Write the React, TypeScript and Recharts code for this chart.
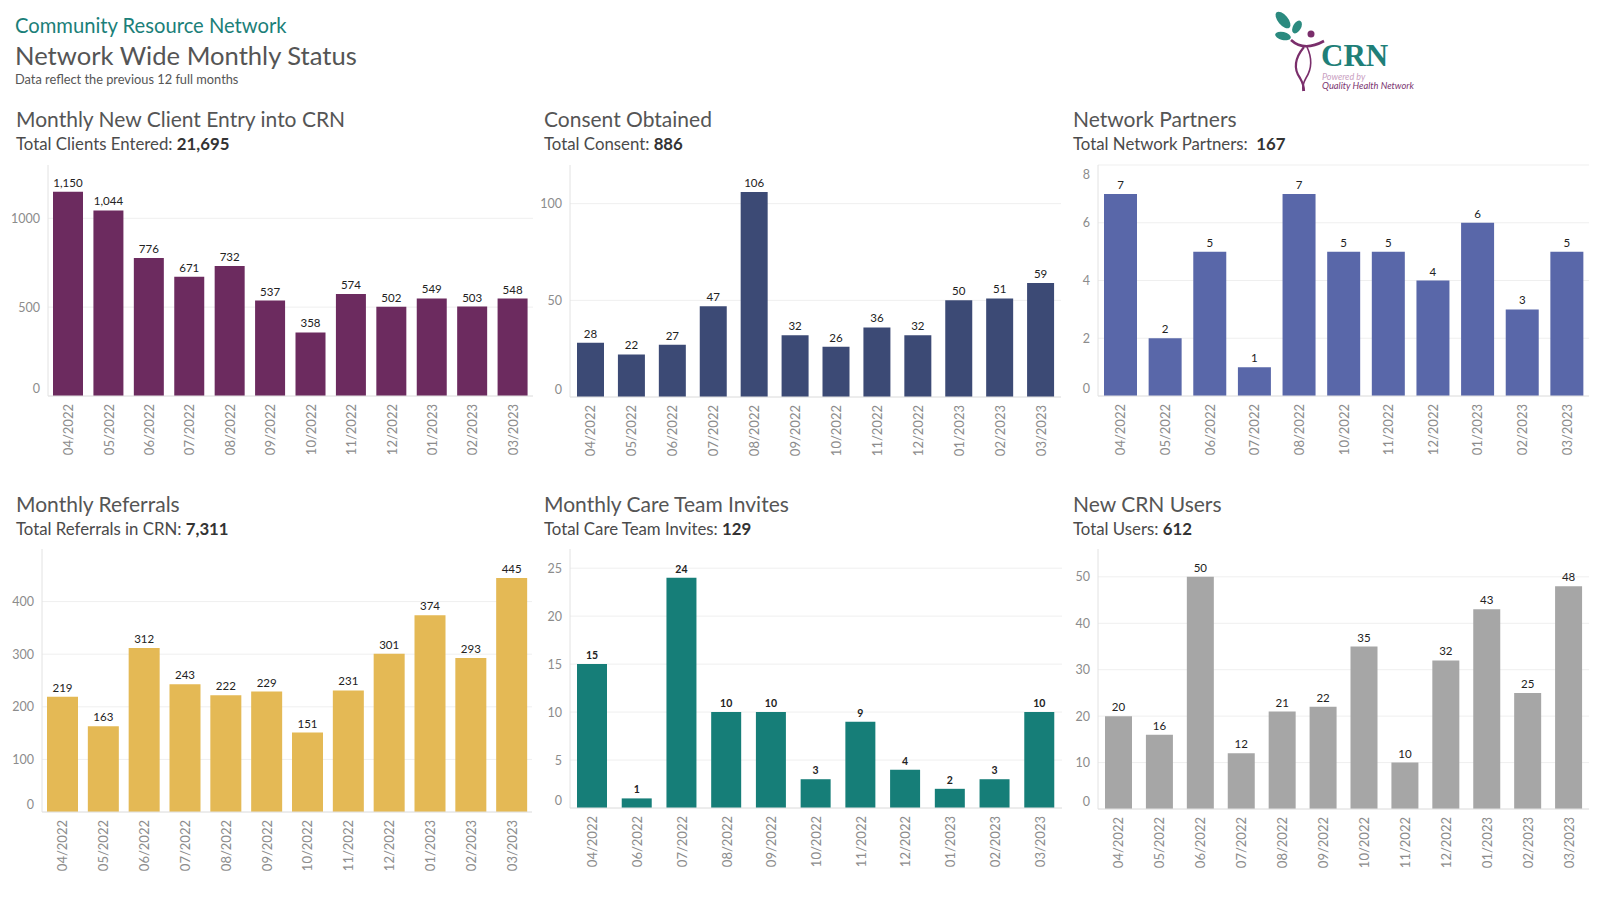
import React from 'react';
import { BarChart, Bar, XAxis, YAxis, LabelList, CartesianGrid } from 'recharts';

const months12 = ['04/2022', '05/2022', '06/2022', '07/2022', '08/2022', '09/2022', '10/2022', '11/2022', '12/2022', '01/2023', '02/2023', '03/2023'];

const clientMonths = months12;
const clientValues = [1150, 1044, 776, 671, 732, 537, 358, 574, 502, 549, 503, 548];
const clientTicks = [0, 500, 1000];

const consentMonths = months12;
const consentValues = [28, 22, 27, 47, 106, 32, 26, 36, 32, 50, 51, 59];
const consentTicks = [0, 50, 100];

const partnerMonths = ['04/2022', '05/2022', '06/2022', '07/2022', '08/2022', '10/2022', '11/2022', '12/2022', '01/2023', '02/2023', '03/2023'];
const partnerValues = [7, 2, 5, 1, 7, 5, 5, 4, 6, 3, 5];
const partnerTicks = [0, 2, 4, 6, 8];

const referralMonths = months12;
const referralValues = [219, 163, 312, 243, 222, 229, 151, 231, 301, 374, 293, 445];
const referralTicks = [0, 100, 200, 300, 400];

const inviteMonths = ['04/2022', '06/2022', '07/2022', '08/2022', '09/2022', '10/2022', '11/2022', '12/2022', '01/2023', '02/2023', '03/2023'];
const inviteValues = [15, 1, 24, 10, 10, 3, 9, 4, 2, 3, 10];
const inviteTicks = [0, 5, 10, 15, 20, 25];

const userMonths = months12;
const userValues = [20, 16, 50, 12, 21, 22, 35, 10, 32, 43, 25, 48];
const userTicks = [0, 10, 20, 30, 40, 50];

const FONT = "Lato, 'Open Sans', sans-serif";

const fmt = (v: any) => Number(v).toLocaleString('en-US');

type PanelProps = {
  months: string[];
  values: number[];
  color: string;
  domain: [number, number];
  ticks: number[];
  plotLeft: number;
  plotRight: number;
  plotTop: number;
  plotBottom: number;
  barSize: number;
  boldLabels?: boolean;
};

function Panel(props: PanelProps) {
  const { months, values, color, domain, ticks, plotLeft, plotRight, plotTop, plotBottom, barSize, boldLabels } = props;
  const yW = 40;
  const mt = 20;
  const mr = 6;
  const xh = 70;
  const left = plotLeft - yW;
  const top = plotTop - mt;
  const width = plotRight - left + mr;
  const height = plotBottom - top + xh;
  const data = months.map((m, i) => ({ month: m, value: values[i] }));

  const yTick = (p: any) => {
    const v = p.payload.value;
    let dy = 0;
    if (v === domain[0]) dy = -8;
    else if (v === domain[1]) dy = 9;
    return (
      <text x={p.x} y={p.y + dy} textAnchor="end" dominantBaseline="central" fill="#8c8c8c" fontSize={12.5} fontFamily={FONT}>
        {v}
      </text>
    );
  };

  const xTick = (p: any) => (
    <text
      transform={`translate(${p.x},${p.y}) rotate(-90)`}
      textAnchor="end"
      dominantBaseline="central"
      fill="#8c8c8c"
      fontSize={13}
      fontFamily={FONT}
    >
      {p.payload.value}
    </text>
  );

  return (
    <div style={{ position: 'absolute', left, top, width, height }}>
      <BarChart width={width} height={height} data={data} margin={{ top: mt, right: mr, bottom: 0, left: 0 }} barCategoryGap={0}>
        <CartesianGrid vertical={false} stroke="#efefef" syncWithTicks />
        <XAxis dataKey="month" height={xh} interval={0} tickLine={false} axisLine={{ stroke: '#e2e2e2' }} tick={xTick} />
        <YAxis
          width={yW}
          type="number"
          domain={domain}
          ticks={ticks}
          allowDataOverflow
          interval={0}
          tickLine={false}
          axisLine={{ stroke: '#e2e2e2' }}
          tick={yTick}
        />
        <Bar dataKey="value" fill={color} barSize={barSize} isAnimationActive={false}>
          <LabelList
            dataKey="value"
            position="top"
            offset={5}
            formatter={fmt}
            fill="#222222"
            fontSize={boldLabels ? 10.5 : 11.5}
            fontWeight={boldLabels ? 700 : 400}
            fontFamily={FONT}
          />
        </Bar>
      </BarChart>
    </div>
  );
}

function Logo() {
  return (
    <g>
      <ellipse cx={1283} cy={20} rx={5} ry={10} fill="#2b8a7f" transform="rotate(-40 1283 20)" />
      <ellipse cx={1297} cy={27} rx={4} ry={7} fill="#2b8a7f" transform="rotate(30 1297 27)" />
      <ellipse cx={1283} cy={36} rx={8} ry={4} fill="#2b8a7f" transform="rotate(12 1283 36)" />
      <circle cx={1311} cy={34} r={3.5} fill="#7a2e6b" />
      <path d="M1291 40 Q1304 52 1324 41" stroke="#7a2e6b" strokeWidth={2.6} fill="none" />
      <path d="M1304 47 Q1290 64 1300 78 Q1304 85 1304 91" stroke="#7a2e6b" strokeWidth={2.2} fill="none" />
      <path d="M1307 47 Q1315 64 1306 78 Q1302 85 1303 91" stroke="#7a2e6b" strokeWidth={1.6} fill="none" />
      <text x={1321} y={66} fontFamily="'Liberation Serif', 'DejaVu Serif', serif" fontWeight={700} fontSize={31} fill="#1f7f78">
        CRN
      </text>
      <text x={1322} y={80} fontFamily={FONT} fontStyle="italic" fontSize={9} fill="#c9a0bf">
        Powered by
      </text>
      <text x={1322} y={89} fontFamily={FONT} fontStyle="italic" fontSize={9.3} fill="#7b3470">
        Quality Health Network
      </text>
    </g>
  );
}

function Texts() {
  const titleStyle = { fontFamily: FONT, fontSize: 21, fill: '#555555' } as any;
  const subStyle = { fontFamily: FONT, fontSize: 16.8, fill: '#4a4a4a', style: { whiteSpace: 'pre' } } as any;
  const bold = { fontWeight: 700, fill: '#333333' } as any;
  return (
    <svg width={1600} height={900} style={{ position: 'absolute', left: 0, top: 0, pointerEvents: 'none' }}>
      <text x={15} y={33} fontFamily={FONT} fontSize={20.2} fill="#1b7f79">Community Resource Network</text>
      <text x={15} y={65} fontFamily={FONT} fontSize={25.6} fill="#555555">Network Wide Monthly Status</text>
      <text x={15} y={84} fontFamily={FONT} fontSize={12.8} fill="#555555">Data reflect the previous 12 full months</text>

      <text x={16} y={127} {...titleStyle}>Monthly New Client Entry into CRN</text>
      <text x={16} y={150} {...subStyle}>Total Clients Entered: <tspan {...bold}>21,695</tspan></text>

      <text x={544} y={127} {...titleStyle}>Consent Obtained</text>
      <text x={544} y={150} {...subStyle}>Total Consent: <tspan {...bold}>886</tspan></text>

      <text x={1073} y={127} {...titleStyle}>Network Partners</text>
      <text x={1073} y={150} {...subStyle}>{'Total Network Partners:  '}<tspan {...bold}>167</tspan></text>

      <text x={16} y={512} {...titleStyle}>Monthly Referrals</text>
      <text x={16} y={535} {...subStyle}>Total Referrals in CRN: <tspan {...bold}>7,311</tspan></text>

      <text x={544} y={512} {...titleStyle}>Monthly Care Team Invites</text>
      <text x={544} y={535} {...subStyle}>Total Care Team Invites: <tspan {...bold}>129</tspan></text>

      <text x={1073} y={512} {...titleStyle}>New CRN Users</text>
      <text x={1073} y={535} {...subStyle}>Total Users: <tspan {...bold}>612</tspan></text>

      <Logo />
    </svg>
  );
}

export default function App() {
  return (
    <div style={{ position: 'absolute', left: 0, top: 0, width: 1600, height: 900, background: '#ffffff', fontFamily: FONT }}>
      <Panel months={clientMonths} values={clientValues} color="#6c2b5f" domain={[0, 1300]} ticks={clientTicks}
        plotLeft={48} plotRight={533} plotTop={165} plotBottom={396} barSize={30} />
      <Panel months={consentMonths} values={consentValues} color="#3c4a75" domain={[0, 120]} ticks={consentTicks}
        plotLeft={570} plotRight={1061} plotTop={165} plotBottom={397} barSize={27} />
      <Panel months={partnerMonths} values={partnerValues} color="#5967a9" domain={[0, 8]} ticks={partnerTicks}
        plotLeft={1098} plotRight={1589} plotTop={165} plotBottom={396} barSize={33} />
      <Panel months={referralMonths} values={referralValues} color="#e4b955" domain={[0, 500]} ticks={referralTicks}
        plotLeft={42} plotRight={532} plotTop={549} plotBottom={812} barSize={31} />
      <Panel months={inviteMonths} values={inviteValues} color="#167e78" domain={[0, 27]} ticks={inviteTicks}
        plotLeft={570} plotRight={1062} plotTop={549} plotBottom={808} barSize={30} boldLabels />
      <Panel months={userMonths} values={userValues} color="#a6a6a6" domain={[0, 56]} ticks={userTicks}
        plotLeft={1098} plotRight={1589} plotTop={549} plotBottom={809} barSize={27} />
      <Texts />
    </div>
  );
}
